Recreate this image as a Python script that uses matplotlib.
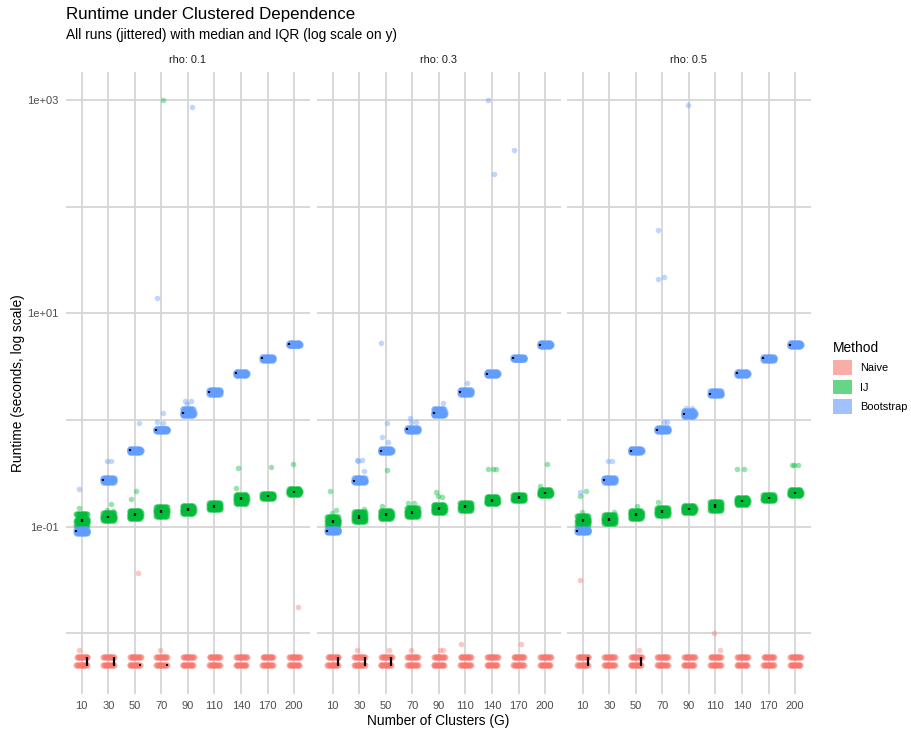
import matplotlib
matplotlib.use("Agg")
import matplotlib.pyplot as plt
import numpy as np
from matplotlib.patches import Patch

plt.rcParams['font.family'] = ['Liberation Sans', 'DejaVu Sans']

clusters = [10, 30, 50, 70, 90, 110, 140, 170, 200]
rhos = ["0.1", "0.3", "0.5"]
methods = ["Naive", "IJ", "Bootstrap"]
colors = {"Naive": "#F8766D", "IJ": "#00BA38", "Bootstrap": "#619CFF"}

nan = float("nan")

# Naive runs land on two timer ticks (seconds)
naive_levels = [0.005, 0.006]
# summary marks only shown for the smaller G
naive_q1 = {"0.1": [0.005, 0.005, 0.005, 0.005, nan, nan, nan, nan, nan],
            "0.3": [0.005, 0.005, 0.005, nan, nan, nan, nan, nan, nan],
            "0.5": [0.005, nan, 0.005, nan, nan, nan, nan, nan, nan]}
naive_med = {"0.1": [0.005, 0.005, 0.005, 0.005, nan, nan, nan, nan, nan],
             "0.3": [0.005, 0.005, 0.005, nan, nan, nan, nan, nan, nan],
             "0.5": [0.005, nan, 0.005, nan, nan, nan, nan, nan, nan]}
naive_q3 = {"0.1": [0.006, 0.006, 0.005, 0.005, nan, nan, nan, nan, nan],
            "0.3": [0.006, 0.006, 0.006, nan, nan, nan, nan, nan, nan],
            "0.5": [0.006, nan, 0.006, nan, nan, nan, nan, nan, nan]}

# IJ: bulk of runs (low edge, q1, median, q3, high edge)
ij_lo = {"0.1": [0.104, 0.116, 0.120, 0.127, 0.133, 0.145, 0.168, 0.184, 0.203],
         "0.3": [0.103, 0.112, 0.120, 0.126, 0.137, 0.143, 0.165, 0.178, 0.198],
         "0.5": [0.104, 0.109, 0.121, 0.128, 0.137, 0.144, 0.164, 0.178, 0.199]}
ij_q1 = {"0.1": [0.111, 0.121, 0.126, 0.135, 0.140, 0.151, 0.177, 0.190, 0.209],
         "0.3": [0.109, 0.117, 0.126, 0.132, 0.143, 0.149, 0.171, 0.183, 0.204],
         "0.5": [0.110, 0.114, 0.127, 0.134, 0.142, 0.151, 0.170, 0.183, 0.204]}
ij_med = {"0.1": [0.114, 0.124, 0.129, 0.139, 0.143, 0.155, 0.182, 0.193, 0.213],
          "0.3": [0.112, 0.123, 0.129, 0.136, 0.147, 0.153, 0.175, 0.187, 0.208],
          "0.5": [0.113, 0.117, 0.130, 0.138, 0.146, 0.156, 0.174, 0.187, 0.208]}
ij_q3 = {"0.1": [0.118, 0.127, 0.133, 0.144, 0.148, 0.160, 0.188, 0.197, 0.218],
         "0.3": [0.116, 0.129, 0.133, 0.141, 0.152, 0.158, 0.180, 0.192, 0.213],
         "0.5": [0.117, 0.121, 0.134, 0.143, 0.151, 0.162, 0.179, 0.191, 0.213]}
ij_hi = {"0.1": [0.130, 0.134, 0.141, 0.153, 0.156, 0.168, 0.200, 0.203, 0.225],
         "0.3": [0.124, 0.136, 0.140, 0.149, 0.160, 0.166, 0.188, 0.198, 0.220],
         "0.5": [0.125, 0.128, 0.141, 0.150, 0.157, 0.172, 0.187, 0.197, 0.219]}

# Bootstrap: same layout
boot_lo = {"0.1": [0.088, 0.265, 0.505, 0.780, 1.11, 1.77, 2.66, 3.68, 5.00],
           "0.3": [0.089, 0.260, 0.500, 0.795, 1.11, 1.77, 2.63, 3.70, 4.98],
           "0.5": [0.089, 0.265, 0.500, 0.790, 1.10, 1.72, 2.66, 3.68, 4.98]}
boot_q1 = {"0.1": [0.090, 0.272, 0.515, 0.798, 1.14, 1.81, 2.71, 3.75, 5.08],
           "0.3": [0.091, 0.267, 0.508, 0.812, 1.15, 1.81, 2.67, 3.77, 5.06],
           "0.5": [0.091, 0.271, 0.508, 0.803, 1.13, 1.75, 2.71, 3.75, 5.06]}
boot_med = {"0.1": [0.091, 0.275, 0.520, 0.805, 1.156, 1.83, 2.74, 3.78, 5.12],
            "0.3": [0.092, 0.270, 0.513, 0.818, 1.16, 1.83, 2.70, 3.80, 5.10],
            "0.5": [0.092, 0.274, 0.513, 0.810, 1.14, 1.77, 2.74, 3.78, 5.10]}
boot_q3 = {"0.1": [0.092, 0.279, 0.526, 0.815, 1.18, 1.85, 2.77, 3.82, 5.17],
           "0.3": [0.093, 0.274, 0.520, 0.826, 1.19, 1.86, 2.74, 3.84, 5.15],
           "0.5": [0.093, 0.278, 0.520, 0.818, 1.16, 1.80, 2.77, 3.82, 5.15]}
boot_hi = {"0.1": [0.095, 0.285, 0.540, 0.830, 1.28, 1.90, 2.84, 3.90, 5.30],
           "0.3": [0.095, 0.283, 0.535, 0.840, 1.28, 1.92, 2.82, 3.92, 5.28],
           "0.5": [0.095, 0.285, 0.535, 0.835, 1.22, 1.86, 2.84, 3.90, 5.28]}

# stray runs away from the bulk: (G, seconds)
naive_out = {"0.1": [(10, 0.007), (50, 0.0366), (70, 0.007), (200, 0.0178)],
             "0.3": [(30, 0.007), (50, 0.007), (70, 0.007), (90, 0.007), (90, 0.007),
                     (110, 0.008), (170, 0.008)],
             "0.5": [(10, 0.0316), (50, 0.007), (110, 0.010), (110, 0.007)]}
ij_out = {"0.1": [(10, 0.148), (30, 0.164), (30, 0.143), (30, 0.141), (50, 0.216), (50, 0.180),
                  (70, 1000.0), (140, 0.232), (140, 0.352), (170, 0.360), (200, 0.387)],
          "0.3": [(10, 0.217), (10, 0.143), (10, 0.135), (30, 0.147), (50, 0.340), (50, 0.157),
                  (70, 0.166), (70, 0.168), (90, 0.209), (90, 0.190), (90, 0.195),
                  (140, 0.347), (140, 0.350), (140, 0.350), (200, 0.387), (200, 0.240)],
          "0.5": [(10, 0.194), (10, 0.214), (10, 0.136), (30, 0.137), (50, 0.157), (70, 0.170),
                  (140, 0.347), (140, 0.345), (200, 0.376), (200, 0.376), (200, 0.376)]}
boot_out = {"0.1": [(10, 0.224), (30, 0.416), (30, 0.416), (50, 0.93), (70, 1.16), (70, 0.964),
                    (70, 0.93), (70, 14.0), (90, 1.52), (90, 1.52), (90, 1.41), (90, 863.0)],
            "0.3": [(30, 0.42), (30, 0.42), (30, 0.41), (30, 0.33), (50, 0.93), (50, 0.70),
                    (50, 0.62), (50, 5.25), (70, 1.05), (70, 0.95), (70, 0.96), (90, 1.44),
                    (110, 2.21), (140, 1000.0), (140, 202.0), (170, 340.0)],
            "0.5": [(10, 0.21), (30, 0.413), (30, 0.413), (70, 0.953), (70, 0.953), (70, 60.0),
                    (70, 21.8), (70, 21.0), (90, 1.29), (90, 1.29), (90, 890.0)]}

bulk = {"Naive": None,
        "IJ": (ij_lo, ij_q1, ij_med, ij_q3, ij_hi),
        "Bootstrap": (boot_lo, boot_q1, boot_med, boot_q3, boot_hi)}
stats = {"Naive": (naive_q1, naive_med, naive_q3),
         "IJ": (ij_q1, ij_med, ij_q3),
         "Bootstrap": (boot_q1, boot_med, boot_q3)}
strays = {"Naive": naive_out, "IJ": ij_out, "Bootstrap": boot_out}
dodge = {"Naive": 0.2, "IJ": 0.0, "Bootstrap": -0.2}

W, H = 911, 731
fig = plt.figure(figsize=(W / 100, H / 100), dpi=100)
fig.patch.set_facecolor("white")

pan_left = [65.8, 316.8, 566.8]
pan_w = 244.2
pan_top, pan_bot = 71.7, 693.7

grid_col = "#d6d6d6"
spread = np.linspace(-0.2, 0.2, 13)
kick = [-0.1, 0.12, -0.04, 0.16, 0.05, -0.15, 0.08, -0.18]
xs = np.arange(len(clusters))

axes = []
for k, rho in enumerate(rhos):
    ax = fig.add_axes([pan_left[k] / W, 1 - pan_bot / H, pan_w / W, (pan_bot - pan_top) / H],
                      sharey=axes[0] if axes else None)
    axes.append(ax)
    ax.set_yscale("log")
    for m in methods:
        c = colors[m]
        # the bulk of runs, spread sideways
        px, py = [], []
        for i in range(len(clusters)):
            if m == "Naive":
                rows = naive_levels
            else:
                rows = [t[rho][i] for t in bulk[m]]
            for r, v in enumerate(rows):
                off = spread + (0.015 if r % 2 else 0.0)
                px.extend(xs[i] + off)
                py.extend([v] * len(off))
        ax.scatter(px, py, s=20, color=c, alpha=0.5, linewidths=0, zorder=3)
        # stray runs
        ox = [clusters.index(g) + kick[j % len(kick)] for j, (g, v) in enumerate(strays[m][rho])]
        oy = [v for g, v in strays[m][rho]]
        ax.scatter(ox, oy, s=16, color=c, alpha=0.4, linewidths=0, zorder=3)

    # median and IQR on top
    for m in methods:
        q1, med, q3 = (np.array(t[rho]) for t in stats[m])
        sx = xs + dodge[m]
        ok = ~np.isnan(med)
        ax.vlines(sx[ok], q1[ok], q3[ok], color="black", lw=1.6, zorder=5)
        ax.scatter(sx[ok], med[ok], s=3.5, color="black", marker="s", linewidths=0, zorder=6)

    ax.set_xlim(-0.6, len(clusters) - 0.4)
    ax.set_xticks(xs)
    ax.set_xticklabels([str(g) for g in clusters])
    ax.set_yticks([1e-1, 1e1, 1e3])
    ax.set_yticks([1e-2, 1, 1e2], minor=True)
    ax.yaxis.set_minor_formatter(plt.NullFormatter())
    ax.set_yticklabels(["1e-01", "1e+01", "1e+03"])
    ax.grid(True, which="major", color=grid_col, lw=1.3, zorder=0)
    ax.grid(True, which="minor", axis="y", color=grid_col, lw=1.3, zorder=0)
    ax.set_axisbelow(True)
    for sp in ax.spines.values():
        sp.set_visible(False)
    ax.tick_params(which="both", length=0, labelsize=8, colors="#4d4d4d", pad=5)
    if k > 0:
        ax.tick_params(axis="y", labelleft=False)
    ax.set_title(f"rho: {rho}", fontsize=7.8, color="#1a1a1a", pad=6)

fig.text(66 / W, 1 - 15 / H, "Runtime under Clustered Dependence", fontsize=12.2,
         va="center", ha="left", color="black")
fig.text(66 / W, 1 - 35 / H, "All runs (jittered) with median and IQR (log scale on y)",
         fontsize=9.9, va="center", ha="left", color="black")
fig.text((pan_left[0] + pan_left[2] + pan_w) / 2 / W, 1 - 721 / H, "Number of Clusters (G)",
         fontsize=9.9, ha="center", va="center")
fig.text(18 / W, 1 - (pan_top + pan_bot) / 2 / H, "Runtime (seconds, log scale)",
         fontsize=9.9, rotation=90, ha="center", va="center")

handles = [Patch(facecolor=colors[m], alpha=0.6, edgecolor="none") for m in methods]
leg = fig.legend(handles, methods, title="Method", loc="upper left",
                 bbox_to_anchor=(823 / W, 1 - 331 / H), frameon=False, fontsize=7.9,
                 title_fontsize=9.9, handlelength=1.7, handleheight=1.7, labelspacing=0.45,
                 handletextpad=0.8)
leg._legend_box.align = "left"

fig.savefig("out.png", dpi=100)
